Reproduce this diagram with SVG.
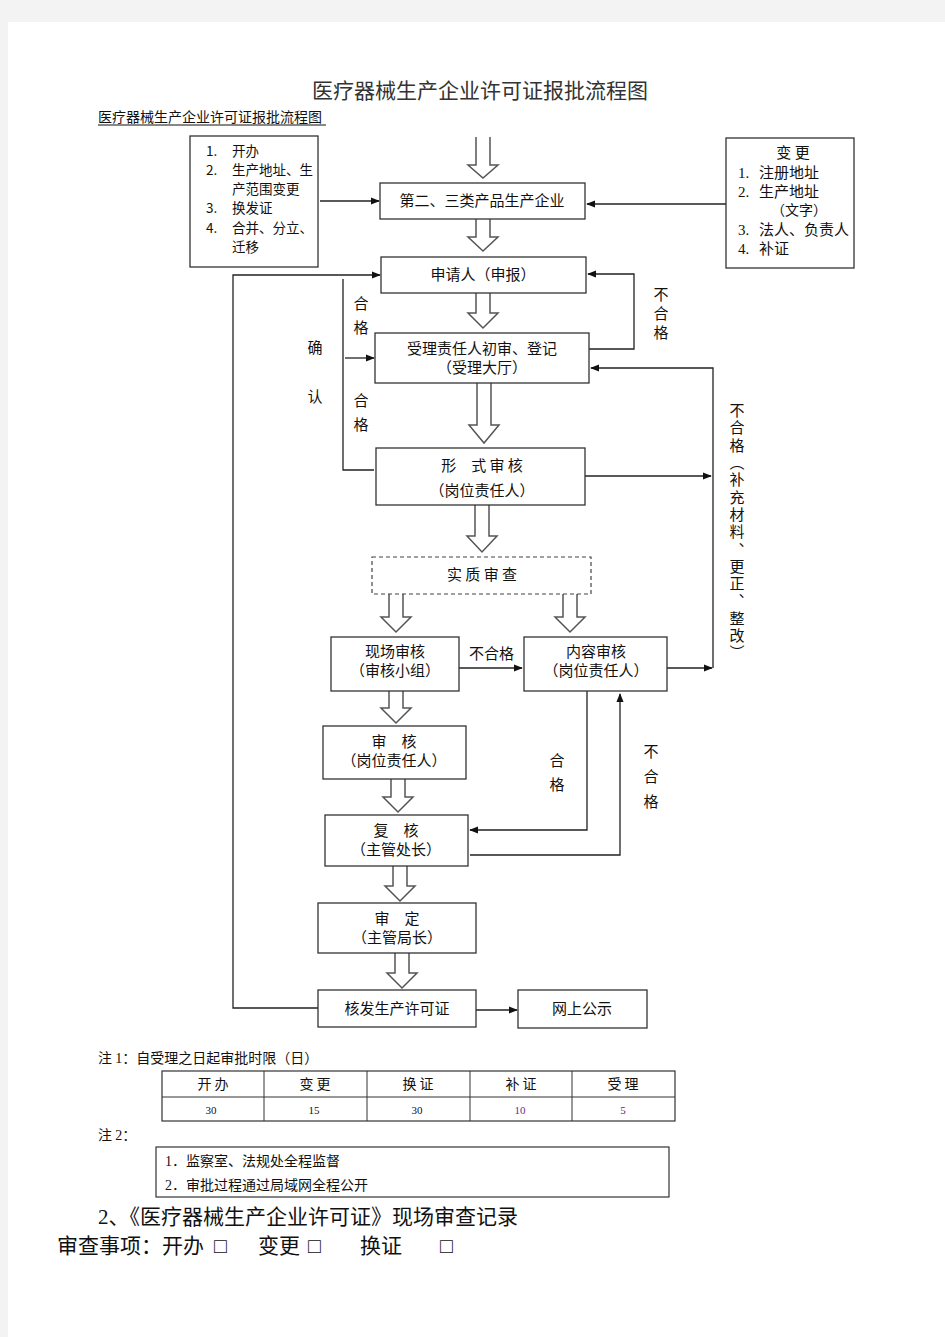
<svg xmlns="http://www.w3.org/2000/svg" width="945" height="1337" viewBox="0 0 945 1337">
<defs>
<marker id="ah" viewBox="0 0 10 10" refX="9" refY="5" markerWidth="9" markerHeight="9" markerUnits="userSpaceOnUse" orient="auto">
<path d="M0,1 L10,5 L0,9 Z" fill="#111"/>
</marker>
<style>
.box{fill:#fff;stroke:#333;stroke-width:1.3}
.dbox{fill:#fff;stroke:#444;stroke-width:1.2;stroke-dasharray:4 3}
.t{font-family:"Noto Sans CJK SC","Noto Sans",sans-serif;font-size:15px;fill:#111}
.c{text-anchor:middle}
.s{font-family:"Liberation Serif","Noto Sans CJK SC",serif}
.v{writing-mode:vertical-rl}
.ln{fill:none;stroke:#222;stroke-width:1.3}
.ha{fill:#fff;stroke:#555;stroke-width:1.5}
.lb{font-size:13.5px}
</style>
</defs>
<rect x="0" y="0" width="945" height="1337" fill="#f3f3f3"/>
<rect x="8" y="22" width="937" height="1315" fill="#fff"/>

<text class="t c" x="480" y="98" style="font-size:21px;fill:#333">医疗器械生产企业许可证报批流程图</text>
<text class="t" x="98" y="122" style="font-size:14px">医疗器械生产企业许可证报批流程图</text>
<line x1="98" y1="125" x2="326" y2="125" stroke="#111" stroke-width="1"/>

<g id="connectors">
<path class="ha" d="M476,137 V165 H468 L483,178 L498,165 H490 V137"/>
<path class="ha" d="M476,219 V237 H468 L483,251 L498,237 H490 V219"/>
<path class="ha" d="M476,293 V313 H468 L483,328 L498,313 H490 V293"/>
<path class="ha" d="M477,383 V425 H469 L484,443 L499,425 H491 V383"/>
<path class="ha" d="M475,505 V536 H467 L482,552 L497,536 H489 V505"/>
<path class="ha" d="M389,594 V617 H381 L396,632 L411,617 H403 V594"/>
<path class="ha" d="M563,594 V617 H555 L570,632 L585,617 H577 V594"/>
<path class="ha" d="M389,691 V708 H381 L396,723 L411,708 H403 V691"/>
<path class="ha" d="M391,779 V797 H383 L398,812 L413,797 H405 V779"/>
<path class="ha" d="M393,866 V886 H385 L400,901 L415,886 H407 V866"/>
<path class="ha" d="M395,953 V973 H387 L402,988 L417,973 H409 V953"/>

<path class="ln" d="M320,201 H379" marker-end="url(#ah)"/>
<path class="ln" d="M726,204 H587" marker-end="url(#ah)"/>
<path class="ln" d="M589,349 H634 V274 H588" marker-end="url(#ah)"/>
<path class="ln" d="M318,1008 H233 V275 H380" marker-end="url(#ah)"/>
<path class="ln" d="M374,470 H343 V279"/>
<path class="ln" d="M345,358 H374" marker-end="url(#ah)"/>
<path class="ln" d="M585,476 H711" marker-end="url(#ah)"/>
<path class="ln" d="M713,668 V368 H591" marker-end="url(#ah)"/>
<path class="ln" d="M667,668 H712" marker-end="url(#ah)"/>
<path class="ln" d="M459,668 H522" marker-end="url(#ah)"/>
<path class="ln" d="M587,691 V830 H470" marker-end="url(#ah)"/>
<path class="ln" d="M470,855 H620 V694" marker-end="url(#ah)"/>
<path class="ln" d="M476,1010 H517" marker-end="url(#ah)"/>

<text class="t v" x="361" y="296" style="letter-spacing:9px">合格</text>
<text class="t v" x="361" y="393" style="letter-spacing:9px">合格</text>
<text class="t v" x="315" y="340" style="letter-spacing:34px">确认</text>
<text class="t v" x="661" y="287" style="letter-spacing:4px">不合格</text>
<text class="t v" x="737" y="403" style="letter-spacing:2.3px">不合格（补充材料、更正、整改）</text>
<text class="t" x="469" y="659">不合格</text>
<text class="t v" x="557" y="753" style="letter-spacing:9px">合格</text>
<text class="t v" x="651" y="744" style="letter-spacing:10px">不合格</text>
</g>

<g id="n-left">
<rect class="box" x="190" y="136" width="128" height="131"/>
<text class="t lb" x="206" y="156"><tspan>1.</tspan><tspan x="232">开办</tspan></text>
<text class="t lb" x="206" y="175"><tspan>2.</tspan><tspan x="232">生产地址、生</tspan></text>
<text class="t lb" x="232" y="194">产范围变更</text>
<text class="t lb" x="206" y="213"><tspan>3.</tspan><tspan x="232">换发证</tspan></text>
<text class="t lb" x="206" y="233"><tspan>4.</tspan><tspan x="232">合并、分立、</tspan></text>
<text class="t lb" x="232" y="252">迁移</text>
</g>

<g id="n-right">
<rect class="box" x="726" y="138" width="128" height="130"/>
<text class="t c" x="793" y="158">变 更</text>
<text class="t" x="738" y="178"><tspan class="s">1.</tspan><tspan x="759">注册地址</tspan></text>
<text class="t" x="738" y="197"><tspan class="s">2.</tspan><tspan x="759">生产地址</tspan></text>
<text class="t" x="771" y="215" style="font-size:14px">（文字）</text>
<text class="t" x="738" y="235"><tspan class="s">3.</tspan><tspan x="759">法人、负责人</tspan></text>
<text class="t" x="738" y="254"><tspan class="s">4.</tspan><tspan x="759">补证</tspan></text>
</g>

<g id="n-company">
<rect class="box" x="380" y="183" width="205" height="36"/>
<text class="t c" x="482" y="206">第二、三类产品生产企业</text>
</g>

<g id="n-applicant">
<rect class="box" x="381" y="257" width="205" height="36"/>
<text class="t c" x="483" y="280">申请人（申报）</text>
</g>

<g id="n-accept">
<rect class="box" x="375" y="333" width="214" height="50"/>
<text class="t c" x="482" y="354">受理责任人初审、登记</text>
<text class="t c" x="482" y="373">（受理大厅）</text>
</g>

<g id="n-formal">
<rect class="box" x="376" y="448" width="209" height="57"/>
<text class="t c" x="482" y="471">形　式 审 核</text>
<text class="t c" x="482" y="496">（岗位责任人）</text>
</g>

<g id="n-substantive">
<rect class="dbox" x="372" y="557" width="219" height="37"/>
<text class="t c" x="482" y="580">实 质 审 查</text>
</g>

<g id="n-site">
<rect class="box" x="331" y="637" width="128" height="54"/>
<text class="t c" x="395" y="657">现场审核</text>
<text class="t c" x="395" y="676">（审核小组）</text>
</g>

<g id="n-content">
<rect class="box" x="524" y="637" width="143" height="54"/>
<text class="t c" x="596" y="657">内容审核</text>
<text class="t c" x="596" y="676">（岗位责任人）</text>
</g>

<g id="n-review">
<rect class="box" x="323" y="726" width="143" height="53"/>
<text class="t c" x="394" y="747">审　核</text>
<text class="t c" x="394" y="766">（岗位责任人）</text>
</g>

<g id="n-recheck">
<rect class="box" x="325" y="815" width="143" height="51"/>
<text class="t c" x="396" y="836">复　核</text>
<text class="t c" x="396" y="855">（主管处长）</text>
</g>

<g id="n-approve">
<rect class="box" x="318" y="903" width="158" height="50"/>
<text class="t c" x="397" y="924">审　定</text>
<text class="t c" x="397" y="943">（主管局长）</text>
</g>

<g id="n-issue">
<rect class="box" x="318" y="990" width="158" height="37"/>
<text class="t c" x="397" y="1014">核发生产许可证</text>
</g>

<g id="n-publish">
<rect class="box" x="518" y="990" width="129" height="38"/>
<text class="t c" x="582" y="1014">网上公示</text>
</g>

<g id="notes">
<text class="t" x="98" y="1063" style="font-size:14px">注 <tspan class="s">1</tspan>：自受理之日起审批时限（日）</text>
<rect x="162" y="1071" width="513" height="50" fill="none" stroke="#333" stroke-width="1.2"/>
<line x1="162" y1="1097" x2="675" y2="1097" stroke="#333" stroke-width="1"/>
<line x1="264" y1="1071" x2="264" y2="1121" stroke="#333" stroke-width="1"/>
<line x1="367" y1="1071" x2="367" y2="1121" stroke="#333" stroke-width="1"/>
<line x1="470" y1="1071" x2="470" y2="1121" stroke="#333" stroke-width="1"/>
<line x1="572" y1="1071" x2="572" y2="1121" stroke="#333" stroke-width="1"/>
<text class="t c" x="213" y="1089" style="font-size:14px">开 办</text>
<text class="t c" x="315" y="1089" style="font-size:14px">变 更</text>
<text class="t c" x="418" y="1089" style="font-size:14px">换 证</text>
<text class="t c" x="521" y="1089" style="font-size:14px">补 证</text>
<text class="t c" x="623" y="1089" style="font-size:14px">受 理</text>
<text class="t s c" x="211" y="1114" style="font-size:11px">30</text>
<text class="t s c" x="314" y="1114" style="font-size:11px">15</text>
<text class="t s c" x="417" y="1114" style="font-size:11px">30</text>
<text class="t s c" x="520" y="1114" style="font-size:11px;fill:#6a2a8a">10</text>
<text class="t s c" x="623" y="1114" style="font-size:11px;fill:#4a2a7a">5</text>
<text class="t" x="98" y="1140" style="font-size:14px">注 <tspan class="s">2</tspan>：</text>
<rect x="156" y="1147" width="513" height="50" fill="none" stroke="#333" stroke-width="1.2"/>
<text class="t" x="165" y="1166" style="font-size:14px"><tspan class="s">1</tspan>．监察室、法规处全程监督</text>
<text class="t" x="165" y="1190" style="font-size:14px"><tspan class="s">2</tspan>．审批过程通过局域网全程公开</text>
<text class="t s" x="98" y="1224" style="font-size:21px"><tspan>2</tspan>、《医疗器械生产企业许可证》现场审查记录</text>
<text class="t s" x="57" y="1253" style="font-size:21px">审查事项：开办</text>
<text class="t s" x="214" y="1253" style="font-size:21px">□</text>
<text class="t s" x="258" y="1253" style="font-size:21px">变更</text>
<text class="t s" x="308" y="1253" style="font-size:21px">□</text>
<text class="t s" x="360" y="1253" style="font-size:21px">换证</text>
<text class="t s" x="440" y="1253" style="font-size:21px">□</text>
</g>
</svg>
